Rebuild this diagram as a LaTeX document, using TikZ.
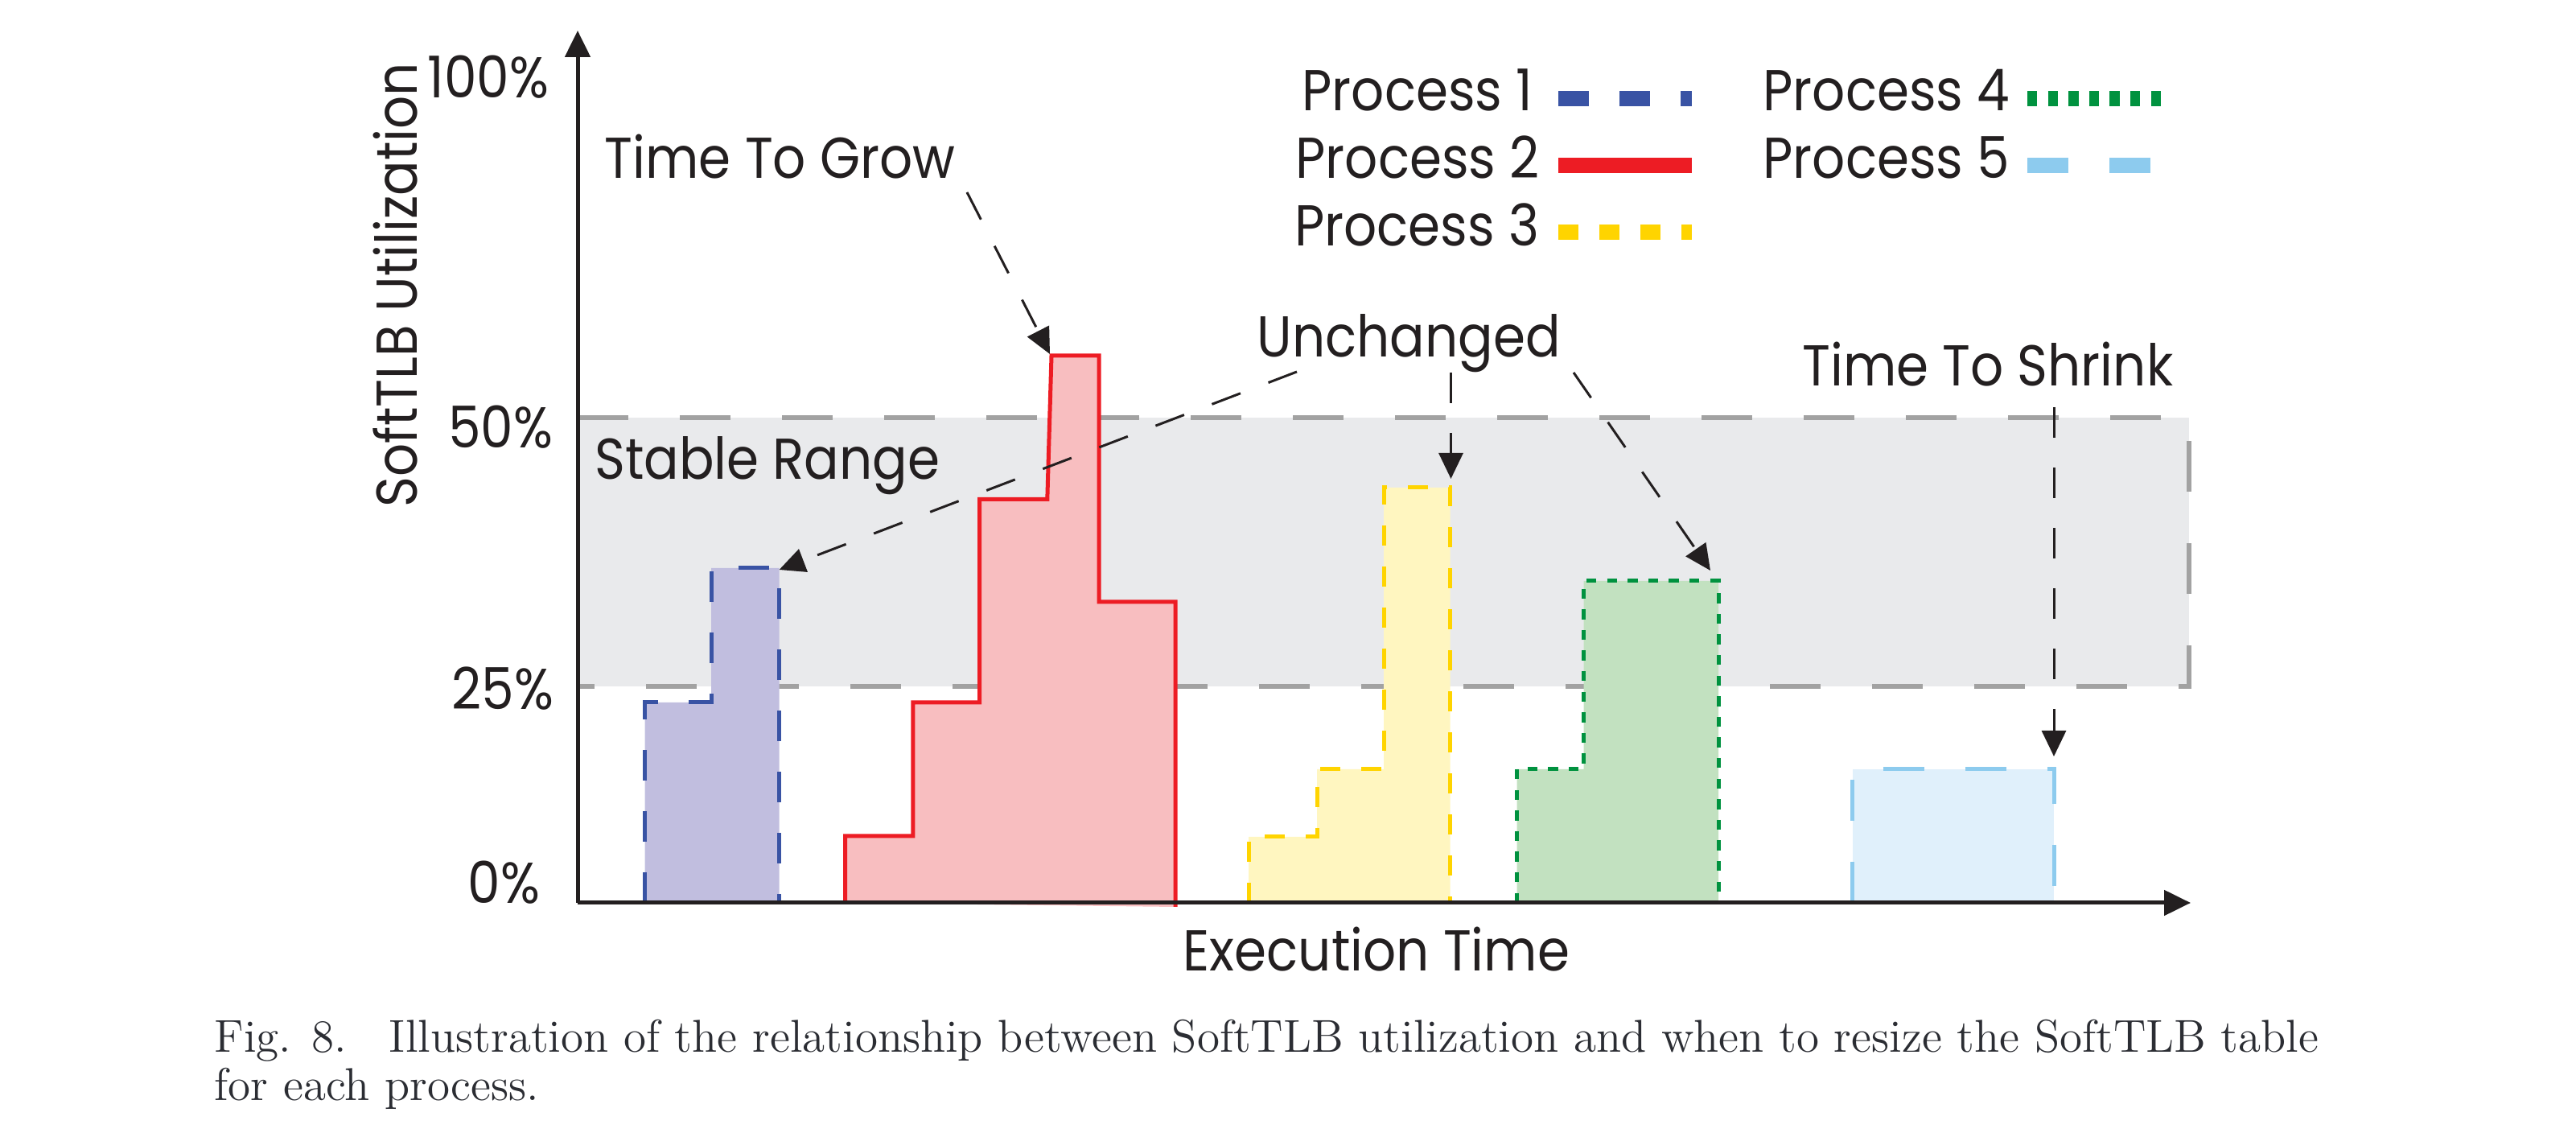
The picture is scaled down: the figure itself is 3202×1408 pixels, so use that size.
\documentclass[tikz,border=0pt]{standalone}
\usepackage{fontspec}
\usetikzlibrary{arrows.meta}
\newfontfamily\gfont[FakeStretch=0.9]{Poppins}
\definecolor{ink}{HTML}{231F20}
\definecolor{capink}{HTML}{2B2D33}
\definecolor{rangefill}{HTML}{E9EAEC}
\definecolor{rangeline}{HTML}{A2A2A2}
\definecolor{pblue}{HTML}{3953A4}
\definecolor{pbluefill}{HTML}{C1BEDF}
\definecolor{pred}{HTML}{ED1C24}
\definecolor{predfill}{HTML}{F8BEC0}
\definecolor{pyel}{HTML}{FFD400}
\definecolor{pyelfill}{HTML}{FFF6C0}
\definecolor{pgreen}{HTML}{00923F}
\definecolor{pgreenfill}{HTML}{C2E1C0}
\definecolor{plb}{HTML}{8DCBEE}
\definecolor{plbfill}{HTML}{E0F0FB}
\tikzset{
  lbl/.style={font=\gfont\fontsize{17.9}{20}\selectfont, text=ink, inner sep=0pt},
  captext/.style={font=\fontsize{14.3}{15}\selectfont, text=capink, inner sep=0pt},
  axisline/.style={draw=ink, line width=1.25pt, -{Triangle[length=8.25pt,width=7.75pt]}},
  callout/.style={draw=ink, line width=0.75pt, dash pattern=on 9.5pt off 9.25pt, -{Triangle[length=8pt,width=7.5pt]}},
  rangeborder/.style={draw=rangeline, line width=1.5pt, dash pattern=on 15.75pt off 16pt},
  s1/.style={draw=pblue, dash pattern=on 9.5pt off 9.5pt},
  s2/.style={draw=pred},
  s3/.style={draw=pyel, dash pattern=on 6.25pt off 6.5pt},
  s4/.style={draw=pgreen, dash pattern=on 3.1pt off 3.3pt},
  s5/.style={draw=plb, dash pattern=on 12.75pt off 12.75pt},
  barline/.style={line width=1.25pt},
  legline/.style={line width=4.75pt},
}
\begin{document}
\begin{tikzpicture}[x=0.25pt,y=-0.25pt]
\useasboundingbox (0,0) rectangle (3202,1408);
% stable range
\fill[rangefill] (718,519) rectangle (2720.6,853);
\draw[rangeborder] (718,519) -- (2720.6,519) -- (2720.6,853) -- (718,853);
% bars: fills
\fill[pbluefill] (801.6,1122) -- (801.6,872.8) -- (884,872.8) -- (884,706) -- (968.6,706) -- (968.6,1122) -- cycle;
\fill[predfill] (1050.7,1122) -- (1050.7,1039) -- (1134.9,1039) -- (1134.9,872.8) -- (1217.6,872.8) -- (1217.6,620.5) -- (1301.8,620.5) -- (1307,442) -- (1366,442) -- (1366,747.8) -- (1461,747.8) -- (1461,1127) -- cycle;
\fill[pyelfill] (1552,1122) -- (1552,1040) -- (1637,1040) -- (1637,956) -- (1720,956) -- (1720,606) -- (1802.6,606) -- (1802.6,1122) -- cycle;
\fill[pgreenfill] (1885.6,1122) -- (1885.6,956) -- (1968.5,956) -- (1968.5,722) -- (2136,722) -- (2136,1122) -- cycle;
\fill[plbfill] (2302.7,1122) -- (2302.7,956) -- (2553,956) -- (2553,1122) -- cycle;
% bars: outlines
\draw[barline,s1] (801.6,1122) -- (801.6,872.8) -- (884,872.8) -- (884,706) -- (968.6,706) -- (968.6,1122);
\draw[barline,s2] (1050.7,1122) -- (1050.7,1039) -- (1134.9,1039) -- (1134.9,872.8) -- (1217.6,872.8) -- (1217.6,620.5) -- (1301.8,620.5) -- (1307,442) -- (1366,442) -- (1366,747.8) -- (1461,747.8) -- (1461,1127);
\draw[barline,s3] (1552,1122) -- (1552,1040) -- (1637,1040) -- (1637,956) -- (1720,956) -- (1720,606) -- (1802.6,606) -- (1802.6,1122);
\draw[barline,s4] (1885.6,1122) -- (1885.6,956) -- (1968.5,956) -- (1968.5,722) -- (2136,722) -- (2136,1122);
\draw[barline,s5] (2302.7,1122) -- (2302.7,956) -- (2553,956) -- (2553,1122);
% axes
\coordinate (org) at (718,1122);
\coordinate (ytop) at (718,38);
\coordinate (xend) at (2723,1122);
\draw[axisline] (org) -- (ytop);
\draw[axisline] (org) -- (xend);
% axis labels
\node[lbl, rotate=90, anchor=base] (ylab) at (518,354) {SoftTLB Utilization};
\node[lbl, anchor=base] (xlab) at (1711,1207) {Execution Time};
\node[lbl, anchor=base east] (t100) at (683,122) {100\%};
\node[lbl, anchor=base east] (t50) at (688,557) {50\%};
\node[lbl, anchor=base east] (t25) at (689,882) {25\%};
\node[lbl, anchor=base east] (t0) at (672,1123) {0\%};
% annotations
\node[lbl, anchor=base west] (grow) at (751,222) {Time To Grow};
\node[lbl, anchor=base west] (stable) at (738.5,596) {Stable Range};
\node[lbl, anchor=base west] (unch) at (1562,444) {Unchanged};
\node[lbl, anchor=base east] (shrink) at (2702,480) {Time To Shrink};
% legend
\node[lbl, anchor=base east] (lp1) at (1906,138) {Process 1};
\node[lbl, anchor=base east] (lp2) at (1914.6,222) {Process 2};
\node[lbl, anchor=base east] (lp3) at (1914,306) {Process 3};
\node[lbl, anchor=base east] (lp4) at (2499,138) {Process 4};
\node[lbl, anchor=base east] (lp5) at (2499,222) {Process 5};
\draw[legline,s1] (1937,122.5) -- (2103,122.5);
\draw[legline,s2] (1937,205.5) -- (2103,205.5);
\draw[legline,s3] (1937,289) -- (2103,289);
\draw[legline,s4] (2520,122.5) -- (2686,122.5);
\draw[legline,s5] (2520,205.5) -- (2673,205.5);
% callouts
\coordinate (growS) at (1202,239);
\coordinate (p2top) at (1305,440);
\coordinate (unchA) at (1612,462);
\coordinate (unchB) at (1803.5,463);
\coordinate (unchC) at (1956,463);
\coordinate (p1top) at (968.6,708);
\coordinate (p3top) at (1803.5,595);
\coordinate (p4top) at (2126,709);
\coordinate (shrinkS) at (2553,506);
\coordinate (p5top) at (2553,940);
\draw[callout] (growS) -- (p2top);
\draw[callout] (unchA) -- (p1top);
\draw[callout] (unchB) -- (p3top);
\draw[callout] (unchC) -- (p4top);
\draw[callout] (shrinkS) -- (p5top);
% caption
\node[captext, anchor=base west] (cap1) at (266,1308) {Fig. 8.\hspace{13.25pt}Illustration of the relationship between SoftTLB utilization and when to resize the SoftTLB table};
\node[captext, anchor=base west] (cap2) at (266,1368) {for each process.};
\end{tikzpicture}
\end{document}
